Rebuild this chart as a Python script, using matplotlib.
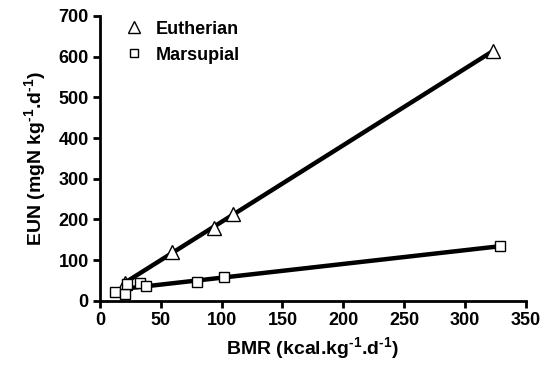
import numpy as np
import matplotlib

matplotlib.use("Agg")

import matplotlib.pyplot as plt
from matplotlib.lines import Line2D

plt.rcParams["font.family"] = ["Liberation Sans", "DejaVu Sans"]
plt.rcParams["font.weight"] = "bold"
plt.rcParams["mathtext.fontset"] = "custom"
plt.rcParams["mathtext.rm"] = "Liberation Sans:bold"
plt.rcParams["mathtext.bf"] = "Liberation Sans:bold"

# data
eutherian_bmr = [21, 59, 94, 109, 323]
eutherian_eun = [44, 121, 178, 213, 614]

marsupial_bmr = [12, 21, 22, 33, 38, 80, 102, 329]
marsupial_eun = [22, 16, 42, 43, 37, 46, 59, 134]

x_ticks = [0, 50, 100, 150, 200, 250, 300, 350]
y_ticks = [0, 100, 200, 300, 400, 500, 600, 700]

fig = plt.figure(figsize=(5.49, 3.70), dpi=100)
ax = fig.add_axes([0.182, 0.187, 0.776, 0.77])

for xs, ys, mk, ms in [(eutherian_bmr, eutherian_eun, "^", 10),
                       (marsupial_bmr, marsupial_eun, "s", 7)]:
    xs = np.array(xs)
    ys = np.array(ys)
    slope, icpt = np.polyfit(xs, ys, 1)
    xl = np.array([xs.min(), xs.max()])
    ax.plot(xl, slope * xl + icpt, color="black", lw=3.2, zorder=2)
    ax.plot(xs, ys, linestyle="none", marker=mk, markersize=ms,
            markerfacecolor="white", markeredgecolor="black",
            markeredgewidth=1.0, zorder=3)

ax.set_xlim(0, 350)
ax.set_ylim(0, 700)
ax.set_xticks(x_ticks)
ax.set_yticks(y_ticks)

for side in ["top", "right"]:
    ax.spines[side].set_visible(False)
for side in ["left", "bottom"]:
    ax.spines[side].set_linewidth(2)
ax.tick_params(width=2, length=5, labelsize=13, pad=3)
for lab in ax.get_xticklabels() + ax.get_yticklabels():
    lab.set_fontweight("bold")

sup = "$^{\\text{-1}}$"
ax.set_xlabel("BMR (kcal.kg" + sup + ".d" + sup + ")", fontsize=14,
              fontweight="bold", labelpad=5)
ax.set_ylabel("EUN (mgN kg" + sup + ".d" + sup + ")", fontsize=14,
              fontweight="bold", labelpad=7)

handles = [
    Line2D([], [], linestyle="none", marker="^", markersize=9,
           markerfacecolor="white", markeredgecolor="black", markeredgewidth=1.0),
    Line2D([], [], linestyle="none", marker="s", markersize=6,
           markerfacecolor="white", markeredgecolor="black", markeredgewidth=1.0),
]
ax.legend(handles, ["Eutherian", "Marsupial"], loc="upper left",
          bbox_to_anchor=(0.02, 1.04), frameon=False, handlelength=1.0,
          handletextpad=0.7, labelspacing=0.5,
          prop={"size": 13, "weight": "bold"})

fig.savefig("out.png", dpi=100)
